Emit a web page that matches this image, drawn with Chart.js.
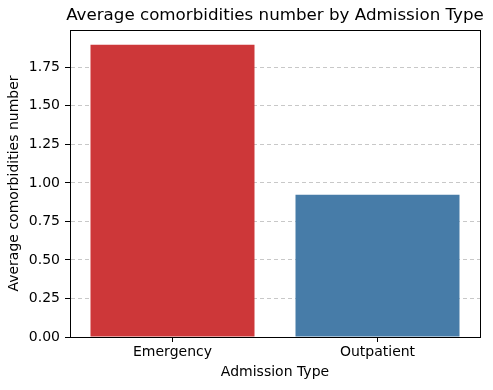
<!DOCTYPE html>
<html>
<head>
<meta charset="utf-8">
<script src="https://cdn.jsdelivr.net/npm/chart.js@4"></script>
<style>
  body { margin: 0; background: #fff; }
  #wrap { width: 493px; height: 390px; }
</style>
</head>
<body>
<div id="wrap"><canvas id="chart" width="493" height="390"></canvas></div>
<script>
const categories = ['Emergency', 'Outpatient'];
const avgComorbidities = [1.897, 0.923];
const barColors = ['#cd3739', '#477ca8'];
const yTicks = [0, 0.25, 0.5, 0.75, 1.0, 1.25, 1.5, 1.75];

const font = 'DejaVu Sans';

// title centred over the plot area, like matplotlib
const titlePlugin = {
  id: 'axTitle',
  afterDraw(chart) {
    const { ctx, chartArea } = chart;
    ctx.save();
    ctx.fillStyle = '#000';
    ctx.font = `16.7px "${font}"`;
    ctx.textAlign = 'center';
    ctx.textBaseline = 'middle';
    ctx.fillText('Average comorbidities number by Admission Type', (chartArea.left + chartArea.right) / 2, 16);
    ctx.restore();
  }
};

// black frame round the axes
const framePlugin = {
  id: 'frame',
  afterDraw(chart) {
    const { ctx, chartArea } = chart;
    ctx.save();
    ctx.strokeStyle = '#000';
    ctx.lineWidth = 1;
    ctx.strokeRect(chartArea.left + 0.5, chartArea.top + 0.5, chartArea.right - chartArea.left, chartArea.bottom - chartArea.top);
    ctx.restore();
  }
};

new Chart(document.getElementById('chart'), {
  type: 'bar',
  data: {
    labels: categories,
    datasets: [{
      data: avgComorbidities,
      backgroundColor: barColors,
      borderWidth: 0,
      barPercentage: 0.8,
      categoryPercentage: 1.0
    }]
  },
  options: {
    responsive: false,
    animation: false,
    layout: { padding: { top: 30, right: 13, left: 0, bottom: 0 } },
    plugins: {
      legend: { display: false },
      tooltip: { enabled: false }
    },
    scales: {
      x: {
        offset: true,
        grid: { display: true, offset: false, drawOnChartArea: false, tickLength: 5, tickColor: '#000' },
        border: { color: '#000' },
        ticks: { color: '#000', font: { family: font, size: 14 }, padding: 2 },
        title: { display: true, text: 'Admission Type', color: '#000', font: { family: font, size: 14 }, padding: { top: 4, bottom: 9 } },
        afterFit(scale) { scale.height = 53; }
      },
      y: {
        min: 0,
        max: 1.992,
        afterBuildTicks(scale) { scale.ticks = yTicks.map(v => ({ value: v })); },
        grid: { color: '#c8c8c8', tickLength: 5, tickColor: '#000', tickBorderDash: [] },
        border: { color: '#000', dash: [4, 3] },
        ticks: { color: '#000', font: { family: font, size: 14 }, padding: 5, callback: v => Number(v).toFixed(2) },
        title: { display: true, text: 'Average comorbidities number', color: '#000', font: { family: font, size: 14 }, padding: { top: 6, bottom: 0 } },
        afterFit(scale) { scale.width = 70; }
      }
    }
  },
  plugins: [titlePlugin, framePlugin]
});
</script>
</body>
</html>
